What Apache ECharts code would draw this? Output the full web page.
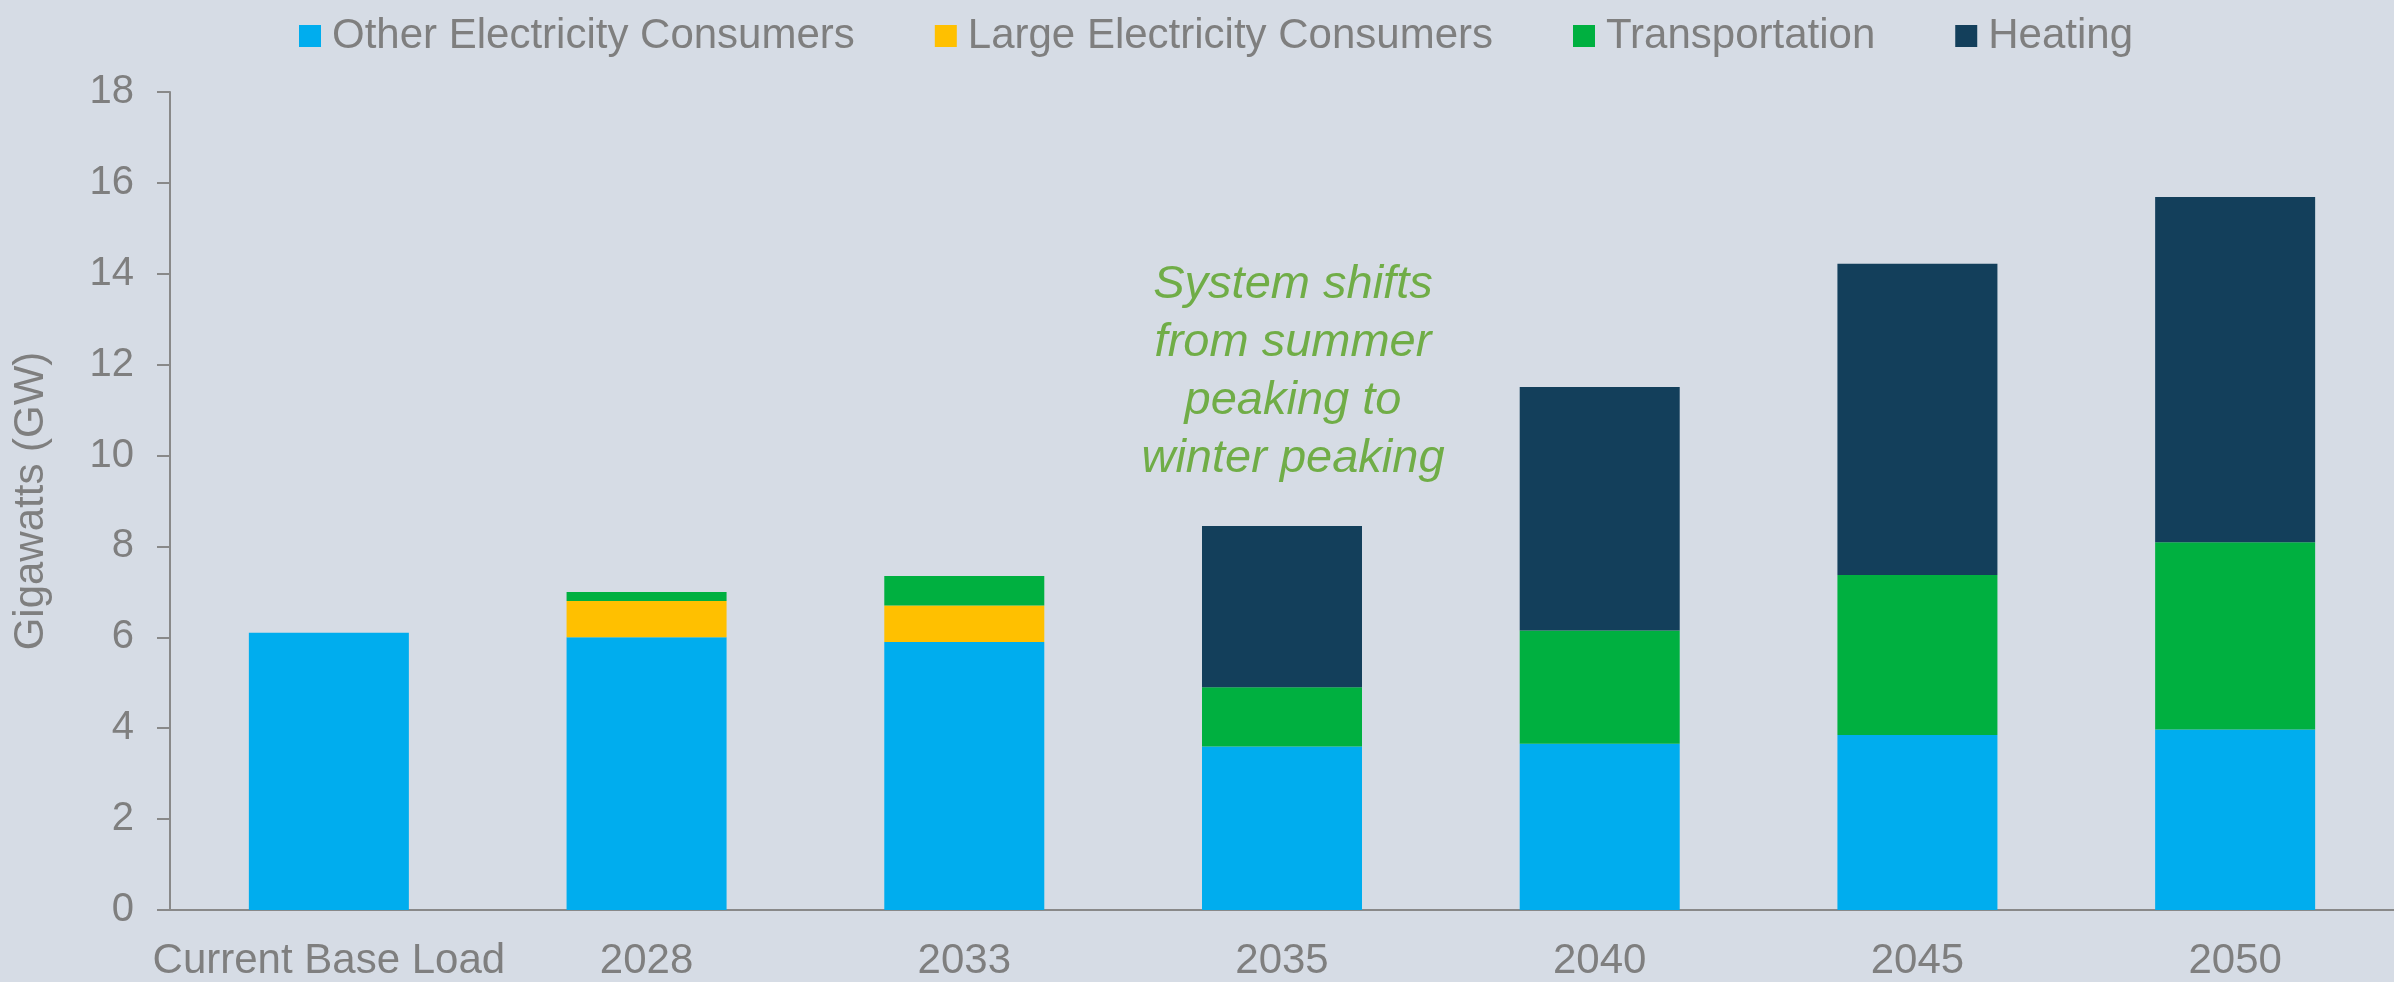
<!DOCTYPE html>
<html>
<head>
<meta charset="utf-8">
<script src="https://cdn.jsdelivr.net/npm/echarts@6/dist/echarts.min.js"></script>
<style>
html,body{margin:0;padding:0;background:#D6DCE5;}
#chart{width:2394px;height:982px;}
</style>
</head>
<body>
<div id="chart"></div>
<script>
const categories = ['Current Base Load', '2028', '2033', '2035', '2040', '2045', '2050'];
const otherConsumers = [6.1, 6.0, 5.9, 3.6, 3.66, 3.85, 3.97];
const largeConsumers = [null, 0.8, 0.8, null, null, null, null];
const transportation = [null, 0.2, 0.65, 1.3, 2.49, 3.52, 4.12];
const heating = [null, null, null, 3.55, 5.36, 6.85, 7.6];
const yTicks = { min: 0, max: 18, interval: 2 };
const seriesNames = ['Other Electricity Consumers', 'Large Electricity Consumers', 'Transportation', 'Heating'];
const seriesColors = ['#00ADEE', '#FFC000', '#00B040', '#133F5B'];
const annotation = 'System shifts\nfrom summer\npeaking to\nwinter peaking';

const font = '"Liberation Sans", Arial, sans-serif';
const gray = '#7F7F7F';

const chart = echarts.init(document.getElementById('chart'));
const dataSets = [otherConsumers, largeConsumers, transportation, heating];

chart.setOption({
  backgroundColor: '#D6DCE5',
  animation: false,
  legend: {
    left: 294,
    top: 10,
    itemWidth: 22,
    itemHeight: 22,
    itemGap: 80,
    icon: 'rect',
    textStyle: { color: gray, fontSize: 42, fontFamily: font, padding: [0, 0, 0, 6] },
    data: seriesNames
  },
  grid: { left: 170, top: 92, width: 2234, bottom: 69, containLabel: false },
  xAxis: {
    type: 'category',
    data: categories,
    axisLine: { lineStyle: { color: '#898989', width: 2 } },
    axisTick: { show: false },
    axisLabel: { color: gray, fontSize: 42, fontFamily: font, margin: 30, interval: 0 }
  },
  yAxis: {
    type: 'value',
    min: yTicks.min,
    max: yTicks.max,
    interval: yTicks.interval,
    name: 'Gigawatts (GW)',
    nameLocation: 'middle',
    nameGap: 118,
    nameTextStyle: { color: gray, fontSize: 42, fontFamily: font },
    splitLine: { show: false },
    axisLine: { show: true, lineStyle: { color: '#898989', width: 2 } },
    axisTick: { show: true, length: 13, lineStyle: { color: '#898989', width: 2 } },
    axisLabel: { color: gray, fontSize: 40, fontFamily: font, margin: 36 }
  },
  graphic: [{
    type: 'text',
    x: 1293,
    y: 372,
    style: {
      text: annotation,
      align: 'center',
      verticalAlign: 'middle',
      fill: '#70AD47',
      fontStyle: 'italic',
      fontSize: 47,
      fontFamily: font,
      lineHeight: 58
    }
  }],
  series: seriesNames.map((name, i) => ({
    name: name,
    type: 'bar',
    stack: 'total',
    barWidth: 160,
    itemStyle: { color: seriesColors[i] },
    data: dataSets[i]
  }))
});
</script>
</body>
</html>
